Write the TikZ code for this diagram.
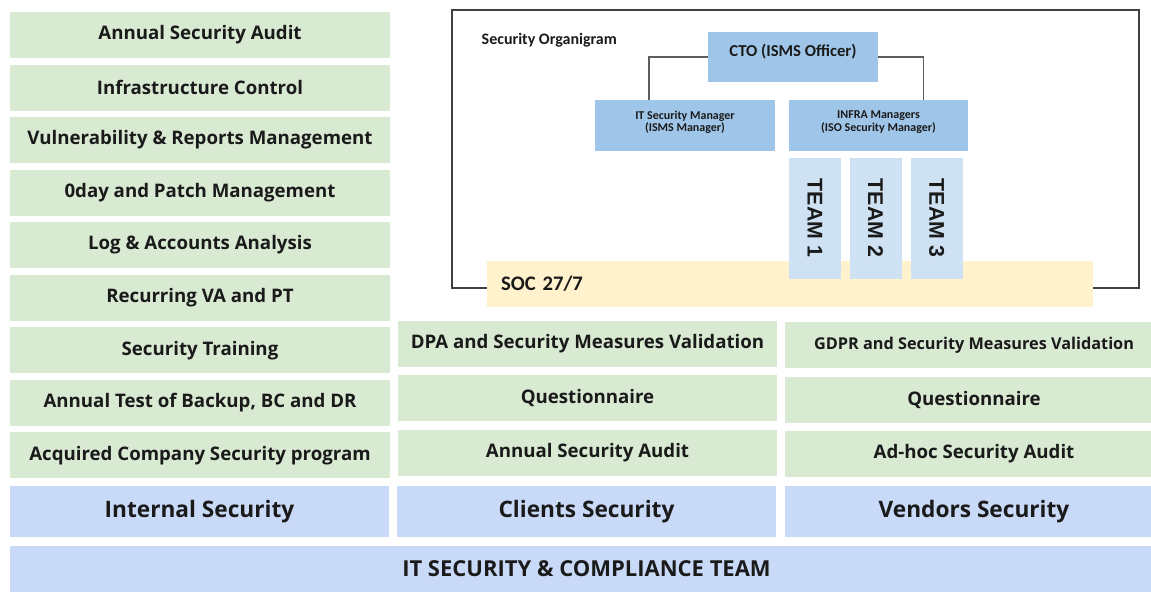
\documentclass[tikz,border=0pt]{standalone}
\usepackage{fontspec}
\setmainfont{Open Sans}
\newfontfamily\orgfont{Carlito}
\newfontfamily\teamfont{Liberation Sans}
\usetikzlibrary{
  positioning
}

\definecolor{taskgreen}{HTML}{D9EAD3}
\definecolor{areablue}{HTML}{C9DAF8}
\definecolor{orgblue}{HTML}{9FC5E8}
\definecolor{teamblue}{HTML}{CFE2F3}
\definecolor{socyellow}{HTML}{FFF2CC}
\definecolor{framegray}{HTML}{404040}
\definecolor{inkgray}{HTML}{1A1A1A}

\begin{document}
\begin{tikzpicture}[
  x=0.75pt, y=-0.75pt,
  text=inkgray,
  task/.style={
     rectangle,
     fill=taskgreen,
     minimum width=285pt,
     minimum height=34.5pt,
     font=\fontsize{14}{16}\selectfont\bfseries
  },
  area/.style={
     rectangle,
     fill=areablue,
     minimum height=38.25pt,
     font=\fontsize{17}{19}\selectfont\bfseries
  },
  orgbox/.style={
     rectangle,
     fill=orgblue,
     minimum width=135pt,
     minimum height=38.25pt
  },
  team/.style={
     rectangle,
     fill=teamblue,
     minimum width=39pt,
     minimum height=90.75pt,
     inner sep=0pt,
     font=\fontsize{16}{18}\selectfont\teamfont\bfseries
  },
  orgline/.style={draw=framegray!85, line width=0.8pt}
]
   \useasboundingbox (0,0) rectangle (1151,592);

   % Internal security column
   \node[task] (in1) at (200,35) {Annual Security Audit};
   \node[task,below=4.5pt of in1] (in2) {Infrastructure Control};
   \node[task,below=4.5pt of in2] (in3) {Vulnerability \& Reports Management};
   \node[task,below=4.5pt of in3] (in4) {0day and Patch Management};
   \node[task,below=4.5pt of in4] (in5) {Log \& Accounts Analysis};
   \node[task,below=4.5pt of in5] (in6) {Recurring VA and PT};
   \node[task,below=4.5pt of in6] (in7) {Security Training};
   \node[task,below=4.5pt of in7] (in8) {Annual Test of Backup, BC and DR};
   \node[task,below=4.5pt of in8] (in9) {Acquired Company Security program};

   % Clients security column
   \node[task,minimum width=284.25pt] (cl1) at (587.5,343.5) {DPA and Security Measures Validation};
   \node[task,minimum width=284.25pt,below=6pt of cl1] (cl2) {Questionnaire};
   \node[task,minimum width=284.25pt,below=6pt of cl2] (cl3) {Annual Security Audit};

   % Vendors security column (runs past the right edge)
   \node[task,minimum width=283.5pt,font=\fontsize{12.2}{14}\selectfont\bfseries] (ve1) at (974,345) {GDPR and Security Measures Validation};
   \node[task,minimum width=283.5pt,below=6pt of ve1] (ve2) {Questionnaire};
   \node[task,minimum width=283.5pt,below=6pt of ve2] (ve3) {Ad-hoc Security Audit};

   % The three areas and the team
   \node[area,minimum width=284.25pt] (internal) at (199.5,511.5) {Internal Security};
   \node[area,minimum width=284.25pt] (clients) at (586.5,511.5) {Clients Security};
   \node[area,minimum width=283.5pt] (vendors) at (974,511.5) {Vendors Security};
   \node[area,minimum width=864.75pt,minimum height=34.5pt,font=\fontsize{16.5}{18}\selectfont\bfseries] (itsec) at (586.5,569) {IT SECURITY \& COMPLIANCE TEAM};

   % The organigram frame
   \draw[framegray, line width=1.1pt] (452,10) rectangle (1139,288);
   \node[anchor=west,font=\fontsize{12}{14}\selectfont\orgfont\bfseries] (title) at (477,40) {Security Organigram};

   \node[orgbox,minimum width=127.5pt,minimum height=37.5pt,
         label={[yshift=3.75pt,font=\fontsize{12.5}{14}\selectfont\orgfont\bfseries]center:CTO (ISMS Officer)}] (cto) at (793,57) {};
   \node[orgbox,
         label={[yshift=2.6pt,align=center,font=\fontsize{9}{7.5}\selectfont\orgfont\bfseries]center:IT Security Manager\\(ISMS Manager)}] (itm) at (685,125.5) {};
   \node[orgbox,minimum width=134.25pt,
         label={[yshift=2.6pt,align=center,font=\fontsize{9}{7.5}\selectfont\orgfont\bfseries]center:INFRA Managers\\(ISO Security Manager)}] (infra) at (878.5,125.5) {};

   % The connecting lines
   \draw[orgline] (cto.west) -| ([xshift=-27pt]itm.north);
   \draw[orgline] (cto.east) -| ([xshift=33.4pt]infra.north);

   % SOC band covers the bottom of the frame
   \node[rectangle,fill=socyellow,inner xsep=10.5pt,text width=433.5pt,align=left,
         minimum height=34.5pt,font=\fontsize{15.5}{17}\selectfont\orgfont\bfseries] (soc) at (790,284) {SOC 27/7};

   \node[team,below right=4.5pt and 0pt of infra.south west] (t1) {\rotatebox{-90}{TEAM 1}};
   \node[team,right=6pt of t1] (t2) {\rotatebox{-90}{TEAM 2}};
   \node[team,right=6.5pt of t2] (t3) {\rotatebox{-90}{TEAM 3}};
\end{tikzpicture}
\end{document}
